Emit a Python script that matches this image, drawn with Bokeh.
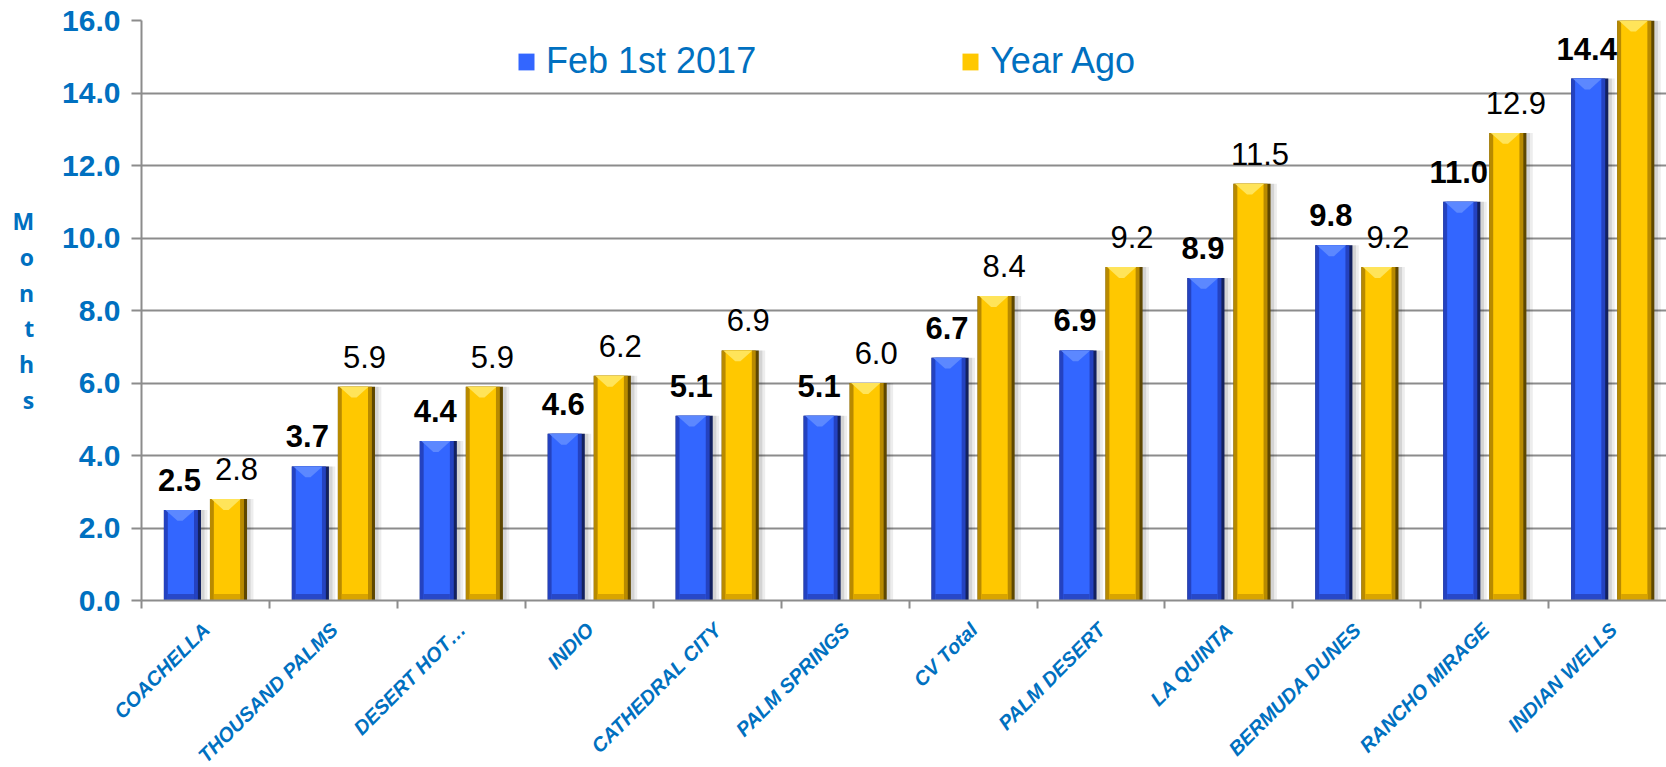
import math
import numpy as np
from bokeh.plotting import figure
from bokeh.layouts import column
from bokeh.models import (ColumnDataSource, FixedTicker, NumeralTickFormatter, Range1d,
                          Legend, LegendItem, Plot)
from bokeh.transform import dodge
from bokeh.core.properties import value
from bokeh.embed import file_html
from bokeh.resources import INLINE

# ---------------- data ----------------
categories = ["COACHELLA", "THOUSAND PALMS", "DESERT HOT…", "INDIO", "CATHEDRAL CITY",
              "PALM SPRINGS", "CV Total", "PALM DESERT", "LA QUINTA", "BERMUDA DUNES",
              "RANCHO MIRAGE", "INDIAN WELLS"]
feb_2017 = [2.5, 3.7, 4.4, 4.6, 5.1, 5.1, 6.7, 6.9, 8.9, 9.8, 11.0, 14.4]
year_ago = [2.8, 5.9, 5.9, 6.2, 6.9, 6.0, 8.4, 9.2, 11.5, 9.2, 12.9, 16.0]
series_names = ["Feb 1st 2017", "Year Ago"]
y_ticks = [0, 2, 4, 6, 8, 10, 12, 14, 16]

# ---------------- layout constants ----------------
Y_MAX = 16
W_TOTAL = 1666
H_TOTAL = 767
LEFT = 141
X_END = 11.92
UNIT = (W_TOTAL - LEFT) / X_END          # pixels per category
BAR_W = 0.29
OFF = 0.18
BLUE = dict(dark="#13215F", mid="#2442C0", main="#3366FF", light="#5C88FF", base="#2848C8")
GOLD = dict(dark="#5E4700", mid="#B88A00", main="#FFC800", light="#FFE45A", base="#D9A400")
TXT_BLUE = "#0070C0"
GRID = "#8C8C8C"

USE_STRIP = "frame_align" in Plot.properties()
TOP_H = 618 if USE_STRIP else H_TOTAL

n = len(categories)
centers = [i + 0.5 for i in range(n)]


def lbl(vals):
    # values at/above the axis maximum are clipped in the chart, so no label shows
    return [f"{v:.1f}" if v < Y_MAX else "" for v in vals]


src = ColumnDataSource(dict(
    x=centers,
    top=[1] * n,
    cat=categories,
    feb=feb_2017,
    yag=year_ago,
    feb_lbl=lbl(feb_2017),
    yag_lbl=lbl(year_ago),
))

p = figure(width=W_TOTAL, height=TOP_H,
           x_range=Range1d(0, X_END), y_range=Range1d(0, Y_MAX),
           output_backend="svg", toolbar_location=None,
           min_border_left=LEFT, min_border_right=0, min_border_top=20,
           min_border_bottom=TOP_H - 600,
           outline_line_color=None, background_fill_color="white", border_fill_color="white")


def cap_patches(values, d):
    xs, ys = [], []
    for c, v in zip(centers, values):
        xl = c + d - BAR_W / 2 + 0.012
        xr = c + d + BAR_W / 2 - 0.05
        xm = (xl + xr) / 2
        xs.append([xl, xr, xm + 0.02, xm - 0.02])
        ys.append([v, v, v - 0.3, v - 0.3])
    return xs, ys


# shadows first
for col, d in (("feb", -OFF), ("yag", OFF)):
    p.vbar(x=dodge("x", d + 0.05), top=col, width=BAR_W, fill_color="black",
           fill_alpha=0.07, line_color=None, source=src)
    p.vbar(x=dodge("x", d + 0.028), top=col, width=BAR_W, fill_color="black",
           fill_alpha=0.10, line_color=None, source=src)

mains = []
for col, d, c, vals in (("feb", -OFF, BLUE, feb_2017), ("yag", OFF, GOLD, year_ago)):
    p.vbar(x=dodge("x", d), top=col, width=BAR_W, fill_color=c["dark"], line_color=None,
           source=src)
    p.vbar(x=dodge("x", d - 0.012), top=col, width=BAR_W - 0.024, fill_color=c["mid"],
           line_color=None, source=src)
    main = p.vbar(x=dodge("x", d - 0.012), top=col, width=BAR_W - 0.085,
                  fill_color=c["main"], line_color=None, source=src)
    p.vbar(x=dodge("x", d - 0.012), top=0.18, bottom=0, width=BAR_W - 0.085,
           fill_color=c["base"], line_color=None, source=src)
    xs, ys = cap_patches(vals, d)
    p.patches(xs, ys, fill_color=c["light"], line_color=None)
    mains.append(main)

# value labels
p.text(x=dodge("x", -OFF), y="feb", text="feb_lbl", source=src,
       text_font=value("Liberation Sans"), text_font_style="bold", text_font_size="31px",
       text_align="center", text_baseline="alphabetic", y_offset=-30, x_offset=-3,
       text_color="black")
p.text(x=dodge("x", OFF), y="yag", text="yag_lbl", source=src,
       text_font=value("Liberation Sans"), text_font_style="normal", text_font_size="31px",
       text_align="center", text_baseline="alphabetic", y_offset=-30, x_offset=8,
       text_color="black")

# legend
legend = Legend(items=[LegendItem(label=series_names[0], renderers=[mains[0]]),
                       LegendItem(label=series_names[1], renderers=[mains[1]])],
                orientation="horizontal", location=(375, 518), spacing=204,
                label_standoff=10, glyph_width=20, glyph_height=21,
                label_text_font="Liberation Sans", label_text_font_size="36px",
                label_text_color=TXT_BLUE, border_line_color=None,
                background_fill_alpha=0, padding=0, margin=0)
p.add_layout(legend)

# y axis
yax = p.yaxis[0]
yax.ticker = FixedTicker(ticks=y_ticks)
yax.formatter = NumeralTickFormatter(format="0.0")
yax.major_label_text_font = "Liberation Sans"
yax.major_label_text_font_style = "bold"
yax.major_label_text_font_size = "30px"
yax.major_label_text_color = TXT_BLUE
yax.major_tick_out = 10
yax.major_tick_in = 0
yax.minor_tick_out = 0
yax.minor_tick_in = 0
yax.major_label_standoff = 11
yax.axis_line_color = GRID
yax.axis_line_width = 2
yax.major_tick_line_color = GRID
yax.major_tick_line_width = 2
yax.axis_label = "M\no\nn\nt\nh\ns"
yax.axis_label_orientation = "horizontal"
yax.axis_label_text_font = "Open Sans"
yax.axis_label_text_font_style = "bold"
yax.axis_label_text_font_size = "23px"
yax.axis_label_text_color = TXT_BLUE
yax.axis_label_text_line_height = 1.12
yax.axis_label_standoff = 25

# x axis: category boundary ticks
xax = p.xaxis[0]
xax.minor_tick_out = 8
xax.minor_tick_in = 0
xax.minor_tick_line_color = GRID
xax.minor_tick_line_width = 2
xax.major_tick_out = 0
xax.major_tick_in = 0
xax.axis_line_color = GRID
xax.axis_line_width = 2

p.xgrid.grid_line_color = None
p.ygrid.grid_line_color = GRID
p.ygrid.grid_line_width = 2

if USE_STRIP:
    # category names drawn in a strip below the chart; its frame spans the full
    # width, with an x range extended left so categories line up with the chart
    xax.ticker = FixedTicker(ticks=[], minor_ticks=list(range(n + 1)))
    xax.major_label_text_font_size = "0px"
    xax.major_label_standoff = 0
    p.frame_align = False
    p2 = figure(width=W_TOTAL, height=H_TOTAL - TOP_H,
                x_range=Range1d(-LEFT / UNIT, X_END), y_range=Range1d(0, 1),
                output_backend="svg", toolbar_location=None,
                x_axis_location=None, y_axis_location=None,
                min_border_left=0, min_border_right=0, min_border_top=0, min_border_bottom=0,
                outline_line_color=None, background_fill_color="white",
                border_fill_color="white")
    p2.frame_align = False
    p2.xgrid.grid_line_color = None
    p2.ygrid.grid_line_color = None
    p2.text(x="x", y="top", text="cat", source=src, angle=math.pi / 4,
            text_align="right", text_baseline="top", x_offset=-7, y_offset=0,
            text_font=value("Liberation Sans"), text_font_style="bold italic",
            text_font_size="20px", text_color=TXT_BLUE)
    root = column(p, p2, spacing=0)
else:
    xax.ticker = FixedTicker(ticks=centers, minor_ticks=list(range(n + 1)))
    xax.major_label_overrides = {c: name for c, name in zip(centers, categories)}
    xax.major_label_orientation = math.pi / 4
    xax.major_label_text_font = "Liberation Sans"
    xax.major_label_text_font_style = "bold italic"
    xax.major_label_text_font_size = "20px"
    xax.major_label_text_color = TXT_BLUE
    xax.major_label_standoff = 7
    root = p

open("out.html", "w").write(file_html(root, INLINE))
